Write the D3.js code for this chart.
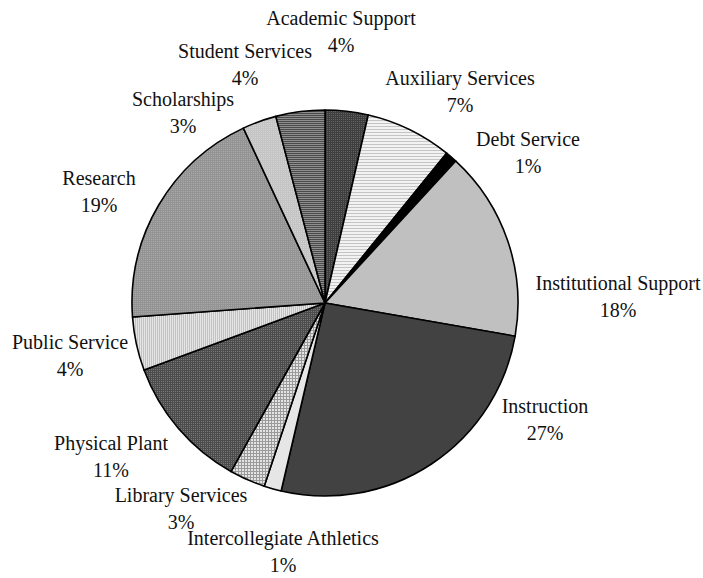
<!DOCTYPE html>
<head>
    <meta charset="utf-8">
    <title>Expenditures pie</title>
    <script src="https://d3js.org/d3.v7.min.js"></script>
    <style>
        body { margin: 0; background: #fff; }
        text { font-family: "Liberation Serif", "Times New Roman", serif; fill: #111; }
    </style>
</head>
<body>
    <script>
        // slices clockwise from 12 o'clock
        const categories = ["Academic Support", "Auxiliary Services", "Debt Service", "Institutional Support",
            "Instruction", "Intercollegiate Athletics", "Library Services", "Physical Plant",
            "Public Service", "Research", "Scholarships", "Student Services"]
        // shares as drawn in the picture
        const values = [3.6, 7.25, 1.0, 15.9, 25.9, 1.45, 3.0, 11.25, 4.5, 19.2, 2.85, 4.1]
        // percentages as printed on the labels
        const pctLabels = ["4%", "7%", "1%", "18%", "27%", "1%", "3%", "11%", "4%", "19%", "3%", "4%"]

        const width = 703
        const height = 578
        const cx = 325, cy = 303, radius = 193

        const svg = d3.select("body").append("svg")
            .attr("width", width)
            .attr("height", height)

        const defs = svg.append("defs")

        // fills: plain colours or small repeating patterns
        function dots(id, bg, fg) {
            const p = defs.append("pattern").attr("id", id).attr("patternUnits", "userSpaceOnUse")
                .attr("width", 2).attr("height", 2)
            p.append("rect").attr("width", 2).attr("height", 2).attr("fill", bg)
            p.append("rect").attr("width", 1).attr("height", 1).attr("fill", fg)
        }
        function hlines(id, bg, fg, step) {
            const p = defs.append("pattern").attr("id", id).attr("patternUnits", "userSpaceOnUse")
                .attr("width", step).attr("height", step)
            p.append("rect").attr("width", step).attr("height", step).attr("fill", bg)
            p.append("rect").attr("width", step).attr("height", 1).attr("fill", fg)
        }
        function vlines(id, bg, fg, step) {
            const p = defs.append("pattern").attr("id", id).attr("patternUnits", "userSpaceOnUse")
                .attr("width", step).attr("height", step)
            p.append("rect").attr("width", step).attr("height", step).attr("fill", bg)
            p.append("rect").attr("width", 1).attr("height", step).attr("fill", fg)
        }
        function grid(id, bg, fg, step) {
            const p = defs.append("pattern").attr("id", id).attr("patternUnits", "userSpaceOnUse")
                .attr("width", step).attr("height", step)
            p.append("rect").attr("width", step).attr("height", step).attr("fill", bg)
            p.append("rect").attr("width", step).attr("height", 1).attr("fill", fg)
            p.append("rect").attr("width", 1).attr("height", step).attr("fill", fg)
        }

        dots("pAcad", "#3e3e3e", "#646464")
        hlines("pAux", "#f2f2f2", "#c4c4c4", 3)
        grid("pLib", "#e4e4e4", "#9a9a9a", 3)
        dots("pPhys", "#4c4c4c", "#787878")
        vlines("pPub", "#e6e6e6", "#c2c2c2", 2)
        dots("pRes", "#949494", "#a8a8a8")
        dots("pSch", "#c4c4c4", "#d4d4d4")
        hlines("pStu", "#8e8e8e", "#4a4a4a", 2)

        const fills = ["url(#pAcad)", "url(#pAux)", "#000", "#c0c0c0",
            "#424242", "#e6e6e6", "url(#pLib)", "url(#pPhys)",
            "url(#pPub)", "url(#pRes)", "url(#pSch)", "url(#pStu)"]

        // label centres (text line, then percentage line below)
        const labelX = [341, 460, 528, 618, 545, 283, 181, 111, 70, 99, 183, 245]
        const labelY = [18, 78, 139, 283, 406, 538, 495, 443, 342, 178, 99, 51]

        const pie = d3.pie().sort(null).value((d) => d)
        const arcs = pie(values)
        const arc = d3.arc().innerRadius(0).outerRadius(radius)

        const g = svg.append("g").attr("transform", `translate(${cx}, ${cy})`)

        g.selectAll("path")
            .data(arcs)
            .join("path")
                .attr("d", arc)
                .attr("fill", (d, i) => fills[i])
                .attr("stroke", "#000")
                .attr("stroke-width", 1.6)
                .attr("stroke-linejoin", "round")

        const labels = svg.append("g").attr("id", "labels")
        categories.forEach((c, i) => {
            labels.append("text")
                .attr("x", labelX[i])
                .attr("y", labelY[i])
                .attr("dy", "0.35em")
                .attr("text-anchor", "middle")
                .style("font-size", "20px")
                .text(c)
            labels.append("text")
                .attr("x", labelX[i])
                .attr("y", labelY[i] + 27)
                .attr("dy", "0.35em")
                .attr("text-anchor", "middle")
                .style("font-size", "20px")
                .text(pctLabels[i])
        })
    </script>
</body>
